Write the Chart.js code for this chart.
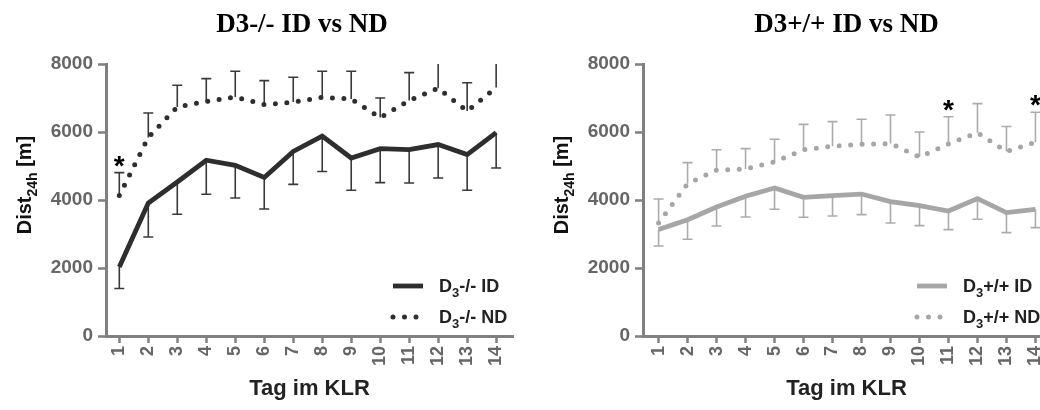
<!DOCTYPE html>
<html>
<head>
<meta charset="utf-8">
<script src="https://cdn.jsdelivr.net/npm/chart.js@4.4.1/dist/chart.umd.min.js"></script>
<style>
  html, body { margin: 0; padding: 0; background: #fff; overflow: hidden; }
  #wrap { position: relative; width: 1040px; height: 410px; overflow: hidden; }
  canvas { position: absolute; top: 0; }
  #ko { left: 0; }
  #wt { left: 537px; }
</style>
</head>
<body>
<div id="wrap">
  <canvas id="ko" width="540" height="410"></canvas>
  <canvas id="wt" width="540" height="410"></canvas>
</div>
<script>
// Day in the running-wheel cage (KLR), days 1..14
const DAYS = [1, 2, 3, 4, 5, 6, 7, 8, 9, 10, 11, 12, 13, 14];
const Y_TICKS = [0, 2000, 4000, 6000, 8000];

// D3-/- mice: mean daily distance [m] and SD
const KO_ID_MEAN = [2030, 3910, 4530, 5170, 5020, 4660, 5430, 5880, 5235, 5510, 5480, 5630, 5335, 5980];
const KO_ID_SD   = [635, 1000, 950, 1000, 960, 925, 970, 1040, 950, 1000, 980, 985, 1050, 1040];
const KO_ND_MEAN = [4130, 5840, 6735, 6900, 7030, 6805, 6880, 7020, 6970, 6425, 6925, 7285, 6615, 7310];
const KO_ND_SD   = [676, 720, 640, 670, 755, 705, 730, 765, 815, 575, 820, 850, 835, 850];

// D3+/+ mice: mean daily distance [m] and SD
const WT_ID_MEAN = [3130, 3420, 3795, 4110, 4355, 4080, 4130, 4175, 3955, 3835, 3675, 4040, 3630, 3725];
const WT_ID_SD   = [483, 576, 560, 610, 629, 589, 601, 605, 631, 588, 546, 608, 589, 537];
const WT_ND_MEAN = [3325, 4480, 4880, 4910, 5120, 5480, 5580, 5640, 5660, 5265, 5650, 5980, 5430, 5700];
const WT_ND_SD   = [705, 620, 600, 600, 665, 745, 725, 735, 840, 735, 800, 855, 730, 880];

// days marked significant (ID vs ND)
const KO_SIG_DAYS = [1];
const WT_SIG_DAYS = [11, 14];

const KO_TITLE = 'D3-/- ID vs ND';
const WT_TITLE = 'D3+/+ ID vs ND';
const KO_LABELS = ['D_{3}-/- ID', 'D_{3}-/- ND'];
const WT_LABELS = ['D_{3}+/+ ID', 'D_{3}+/+ ND'];
const Y_TITLE = 'Dist_{24h} [m]';
const X_TITLE = 'Tag im KLR';

const SANS = '"Liberation Sans", Arial, Helvetica, sans-serif';
const SERIF = '"Liberation Serif", "Times New Roman", serif';

// split "text_{sub}text" into plain / subscript runs
function richParts(s) {
  const parts = [];
  const re = /_\{([^}]*)\}/g;
  let last = 0, m;
  while ((m = re.exec(s))) {
    if (m.index > last) parts.push({ t: s.slice(last, m.index), sub: false });
    parts.push({ t: m[1], sub: true });
    last = re.lastIndex;
  }
  if (last < s.length) parts.push({ t: s.slice(last), sub: false });
  return parts;
}

// draw a run of text with subscripts; y is the baseline
function drawRich(ctx, s, x, y, size, align, color) {
  const parts = richParts(s);
  const main = `bold ${size}px ${SANS}`;
  const sub = `bold ${Math.round(size * 0.72)}px ${SANS}`;
  let w = 0;
  parts.forEach(p => { ctx.font = p.sub ? sub : main; p.w = ctx.measureText(p.t).width; w += p.w; });
  let cx = align === 'center' ? x - w / 2 : x;
  ctx.fillStyle = color;
  ctx.textAlign = 'left';
  ctx.textBaseline = 'alphabetic';
  parts.forEach(p => {
    ctx.font = p.sub ? sub : main;
    ctx.fillText(p.t, cx, p.sub ? y + size * 0.3 : y);
    cx += p.w;
  });
}

// one-sided SD whiskers: ID downwards, ND upwards
const errorBars = {
  id: 'errorBars',
  beforeDatasetsDraw(chart) {
    const { ctx, chartArea: a, scales: { x, y } } = chart;
    ctx.save();
    ctx.beginPath();
    ctx.rect(a.left - 10, a.top, a.right - a.left + 20, a.bottom - a.top);
    ctx.clip();
    chart.data.datasets.forEach(ds => {
      ctx.strokeStyle = ds.errColor;
      ctx.lineWidth = 1.6;
      ds.data.forEach((pt, j) => {
        const px = x.getPixelForValue(pt.x);
        const y0 = y.getPixelForValue(pt.y);
        const y1 = y.getPixelForValue(pt.y + ds.errDir * ds.sd[j]);
        ctx.beginPath();
        ctx.moveTo(px, y0);
        ctx.lineTo(px, y1);
        ctx.moveTo(px - 5, y1);
        ctx.lineTo(px + 5, y1);
        ctx.stroke();
      });
    });
    ctx.restore();
  }
};

// significance asterisks above the ND whiskers
const stars = {
  id: 'stars',
  afterDatasetsDraw(chart, args, opts) {
    const { ctx, scales: { x, y } } = chart;
    const ds = chart.data.datasets[1];
    ctx.save();
    ctx.font = `bold 28px ${SANS}`;
    ctx.fillStyle = '#000';
    ctx.textAlign = 'center';
    ctx.textBaseline = 'alphabetic';
    (opts.days || []).forEach(d => {
      const j = DAYS.indexOf(d);
      const pt = ds.data[j];
      ctx.fillText('*', x.getPixelForValue(pt.x), y.getPixelForValue(pt.y + ds.sd[j]) + 2);
    });
    ctx.restore();
  }
};

// panel title, y-axis title and legend
const decor = {
  id: 'decor',
  afterDraw(chart, args, opts) {
    const { ctx, chartArea: a } = chart;
    ctx.save();
    // panel title
    ctx.font = `bold 27px ${SERIF}`;
    ctx.fillStyle = '#000';
    ctx.textAlign = 'center';
    ctx.textBaseline = 'middle';
    ctx.fillText(opts.title, (a.left + a.right) / 2 + opts.titleDx, 25);

    // rotated y-axis title
    ctx.save();
    ctx.translate(24, (a.top + a.bottom) / 2 + opts.yTitleDy);
    ctx.rotate(-Math.PI / 2);
    drawRich(ctx, Y_TITLE, 0, 7, 20, 'center', '#111');
    ctx.restore();

    // legend
    chart.data.datasets.forEach((ds, i) => {
      const ly = a.top + opts.legendTop + i * 31;
      const lx = a.left + opts.legendLeft;
      ctx.save();
      ctx.strokeStyle = ds.borderColor;
      ctx.lineWidth = ds.borderWidth;
      ctx.lineCap = ds.borderCapStyle || 'butt';
      ctx.setLineDash(ds.borderDash || []);
      ctx.beginPath();
      ctx.moveTo(lx, ly);
      ctx.lineTo(lx + 30, ly);
      ctx.stroke();
      ctx.restore();
      drawRich(ctx, ds.label, lx + 46, ly + 6, 18, 'left', '#222');
    });
    ctx.restore();
  }
};

function series(means) {
  return DAYS.map((d, j) => ({ x: d, y: means[j] }));
}

function makeChart(id, cfg) {
  const lineColor = cfg.lineColor;
  return new Chart(document.getElementById(id), {
    type: 'line',
    data: {
      datasets: [
        {
          label: cfg.labels[0],
          data: series(cfg.idMean),
          sd: cfg.idSd, errDir: -1, errColor: cfg.errColor,
          borderColor: lineColor, borderWidth: 4.8,
          borderCapStyle: 'butt', borderJoinStyle: 'miter',
          pointRadius: 0, tension: 0, fill: false
        },
        {
          label: cfg.labels[1],
          data: series(cfg.ndMean),
          sd: cfg.ndSd, errDir: 1, errColor: cfg.errColor,
          borderColor: lineColor, borderWidth: 5,
          borderDash: [0, 11.5], borderCapStyle: 'round',
          pointRadius: 0, tension: 0, fill: false
        }
      ]
    },
    options: {
      responsive: false,
      animation: false,
      devicePixelRatio: 1,
      layout: { padding: { left: 0, right: 27, top: 64, bottom: 0 } },
      plugins: {
        legend: { display: false },
        title: { display: false },
        tooltip: { enabled: false },
        stars: { days: cfg.sigDays },
        decor: cfg.decor
      },
      scales: {
        x: {
          type: 'linear',
          min: cfg.xMin,
          max: cfg.xMin + 14.04,
          afterFit: s => { s.height = 74; },
          afterBuildTicks: s => { s.ticks = DAYS.map(v => ({ value: v })); },
          ticks: {
            autoSkip: false, minRotation: 90, maxRotation: 90,
            padding: 3, color: '#666',
            font: { family: SANS, size: 18, weight: 'bold' },
            callback: v => String(v)
          },
          grid: { drawOnChartArea: false, drawTicks: true, tickLength: 7, tickWidth: 2.5, tickColor: '#808080', color: '#808080' },
          border: { display: true, color: '#808080', width: 3 }
          ,
          title: {
            display: true, text: X_TITLE, color: '#222',
            font: { family: SANS, size: 22, weight: 'bold' },
            padding: { top: 0, bottom: 8 }
          }
        },
        y: {
          min: 0, max: 8000,
          afterFit: s => { s.width = 106; },
          afterBuildTicks: s => { s.ticks = Y_TICKS.map(v => ({ value: v })); },
          ticks: {
            padding: 5, color: '#666',
            font: { family: SANS, size: 19, weight: 'bold' },
            callback: v => String(v)
          },
          grid: { drawOnChartArea: false, drawTicks: true, tickLength: 8, tickWidth: 2.5, tickColor: '#808080', color: '#808080' },
          border: { display: true, color: '#808080', width: 3 }
        }
      }
    },
    plugins: [errorBars, stars, decor]
  });
}

makeChart('ko', {
  labels: KO_LABELS,
  idMean: KO_ID_MEAN, idSd: KO_ID_SD, ndMean: KO_ND_MEAN, ndSd: KO_ND_SD,
  lineColor: '#2e2e2e', errColor: '#3a3a3a',
  sigDays: KO_SIG_DAYS, xMin: 0.541,
  decor: { title: KO_TITLE, titleDx: -7.5, yTitleDy: -15, legendTop: 222, legendLeft: 287 }
});

makeChart('wt', {
  labels: WT_LABELS,
  idMean: WT_ID_MEAN, idSd: WT_ID_SD, ndMean: WT_ND_MEAN, ndSd: WT_ND_SD,
  lineColor: '#a6a6a6', errColor: '#ababab',
  sigDays: WT_SIG_DAYS, xMin: 0.462,
  decor: { title: WT_TITLE, titleDx: 0, yTitleDy: -15, legendTop: 222, legendLeft: 274 }
});
</script>
</body>
</html>
